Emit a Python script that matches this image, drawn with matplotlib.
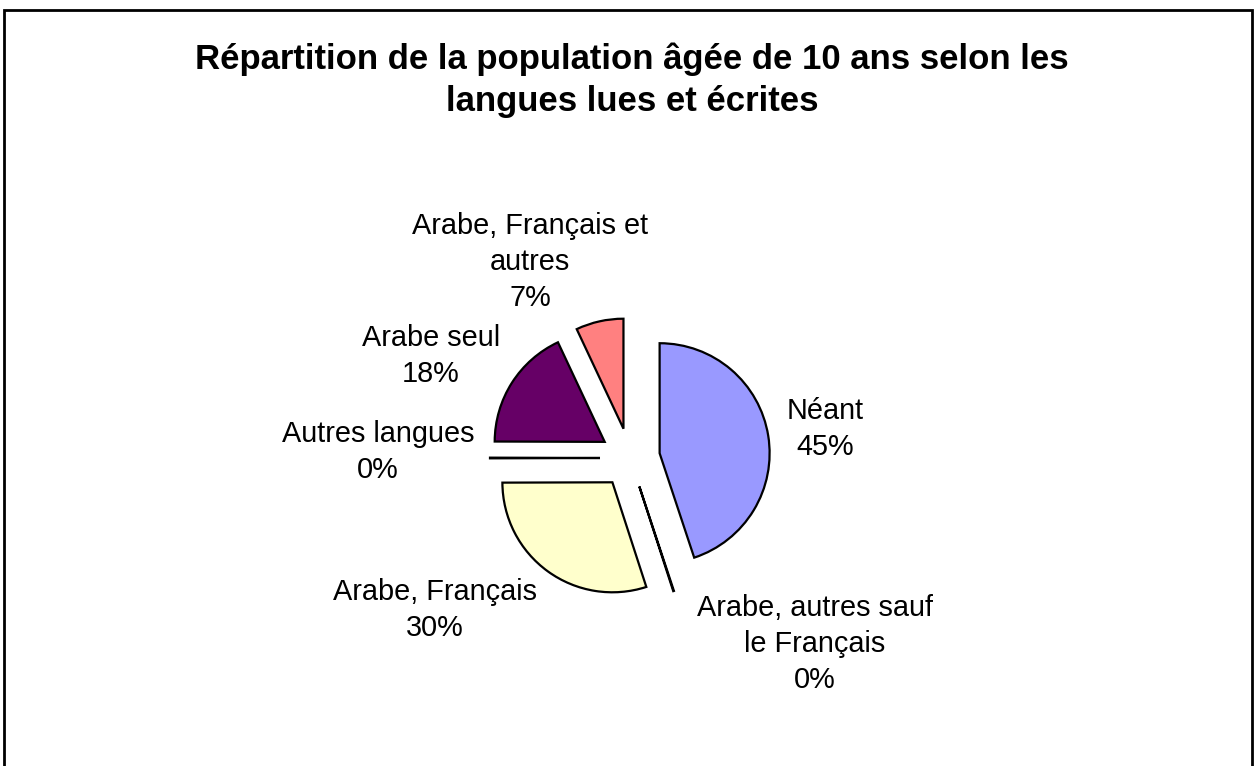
import matplotlib.pyplot as plt
from matplotlib.patches import Rectangle

plt.rcParams['font.family'] = ['Liberation Sans', 'DejaVu Sans']

# data
categories = ['Néant', 'Arabe, autres sauf\nle Français', 'Arabe, Français',
              'Autres langues', 'Arabe seul', 'Arabe, Français et\nautres']
values = [45.0, 0.1, 30.0, 0.1, 18.0, 7.0]
colors = ['#9999FF', '#FFFFFF', '#FFFFCC', '#FFFFFF', '#660066', '#FF8080']

W, H = 1256, 766
fig = plt.figure(figsize=(W / 100, H / 100), dpi=100)
ax = fig.add_axes([0, 0, 1, 1])
ax.set_xlim(0, W)
ax.set_ylim(0, H)
ax.set_aspect('equal')
ax.axis('off')

# chart frame (pixel coords, y measured from top)
ax.add_patch(Rectangle((4, -20), 1248, H - 10 + 20, fill=False, lw=2, ec='black'))

cx, cy, r = 630, H - 458, 110
# explode is in data units (pixels here)
wedges, _ = ax.pie(values, colors=colors, startangle=90, counterclock=False,
                   explode=[30] * len(values), radius=r, center=(cx, cy),
                   wedgeprops=dict(edgecolor='black', linewidth=1.6))
ax.set_xlim(0, W)
ax.set_ylim(0, H)

# label positions (pixel, from top)
label_xy = [(825, 429), (815, 644), (435, 610), (378, 452), (431, 356), (530, 262)]
total = sum(values)
for name, v, (lx, ly) in zip(categories, values, label_xy):
    txt = f"{name}\n{round(v / total * 100):.0f}%"
    ax.text(lx, H - ly, txt, ha='center', va='center', fontsize=20.8,
            linespacing=1.35, color='black')

ax.text(632, H - 80, "Répartition de la population âgée de 10 ans selon les\nlangues lues et écrites",
        ha='center', va='center', fontsize=25, fontweight='bold', linespacing=1.35)

fig.savefig('out.png', dpi=100)
